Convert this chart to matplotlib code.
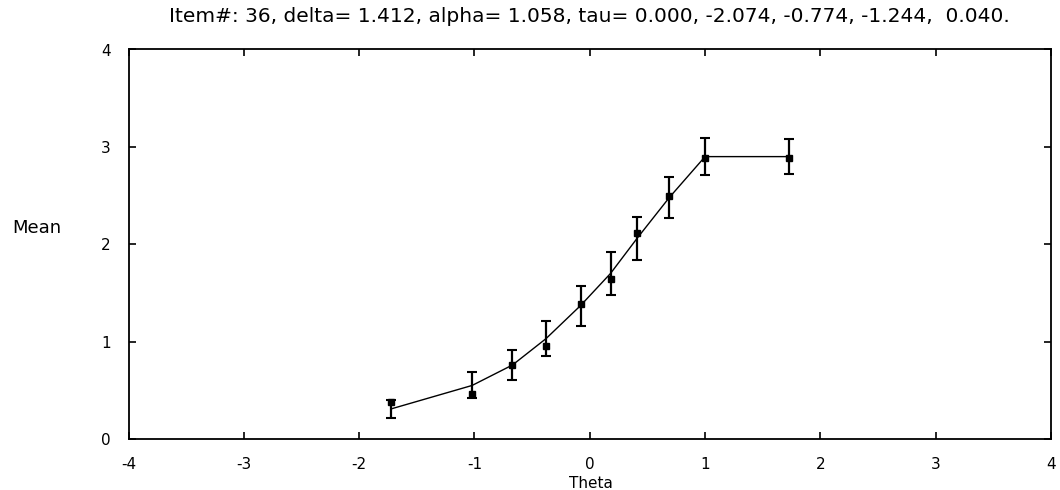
import matplotlib
matplotlib.use("Agg")
import matplotlib.pyplot as plt

theta = [-1.72, -1.02, -0.67, -0.38, -0.08, 0.18, 0.41, 0.69, 1.00, 1.73]
expected = [0.31, 0.55, 0.76, 1.03, 1.37, 1.70, 2.06, 2.48, 2.90, 2.90]
err = [0.095, 0.133, 0.15, 0.18, 0.205, 0.22, 0.217, 0.212, 0.19, 0.18]
observed = [0.38, 0.46, 0.76, 0.95, 1.39, 1.64, 2.12, 2.50, 2.89, 2.89]
xticks = [-4, -3, -2, -1, 0, 1, 2, 3, 4]
yticks = [0, 1, 2, 3, 4]
title = "Item#: 36, delta= 1.412, alpha= 1.058, tau= 0.000, -2.074, -0.774, -1.244,  0.040."

fam = ["DejaVu Sans"]

fig = plt.figure(figsize=(10.6, 4.9), dpi=100)
ax = fig.add_axes([128.5 / 1060, 1 - 439 / 490, (1051 - 128.5) / 1060, (439 - 49.5) / 490])

ax.errorbar(theta, expected, yerr=err, fmt="none", ecolor="black", elinewidth=1.6,
            capsize=3.4, capthick=1.5, zorder=3)
ax.plot(theta, expected, color="black", lw=1.0, zorder=2)
ax.plot(theta, observed, linestyle="none", marker="s", markersize=4.2, color="black", zorder=4)

ax.set_xlim(-4, 4)
ax.set_ylim(0, 4)
ax.set_xticks(xticks)
ax.set_yticks(yticks)
ax.set_xticklabels([str(v) for v in xticks], family=fam, fontsize=11)
ax.set_yticklabels([str(v) for v in yticks], family=fam, fontsize=11)
ax.tick_params(axis="both", direction="in", length=5, width=1.2, top=True, right=True,
               labeltop=False, labelright=False, colors="black")
ax.tick_params(axis="x", pad=13)
ax.tick_params(axis="y", pad=13)
for s in ax.spines.values():
    s.set_linewidth(1.3)
    s.set_color("black")

fig.text(591 / 1060, 1 - 483 / 490, "Theta", ha="center", va="center",
         family=fam, fontsize=11)
fig.text(12 / 1060, 1 - 228 / 490, "Mean", ha="left", va="center",
         family=fam, fontsize=13)
fig.text(589 / 1060, 1 - 17 / 490, title, ha="center", va="center",
         family=fam, fontsize=14.5)

fig.savefig("out.png", dpi=100)
